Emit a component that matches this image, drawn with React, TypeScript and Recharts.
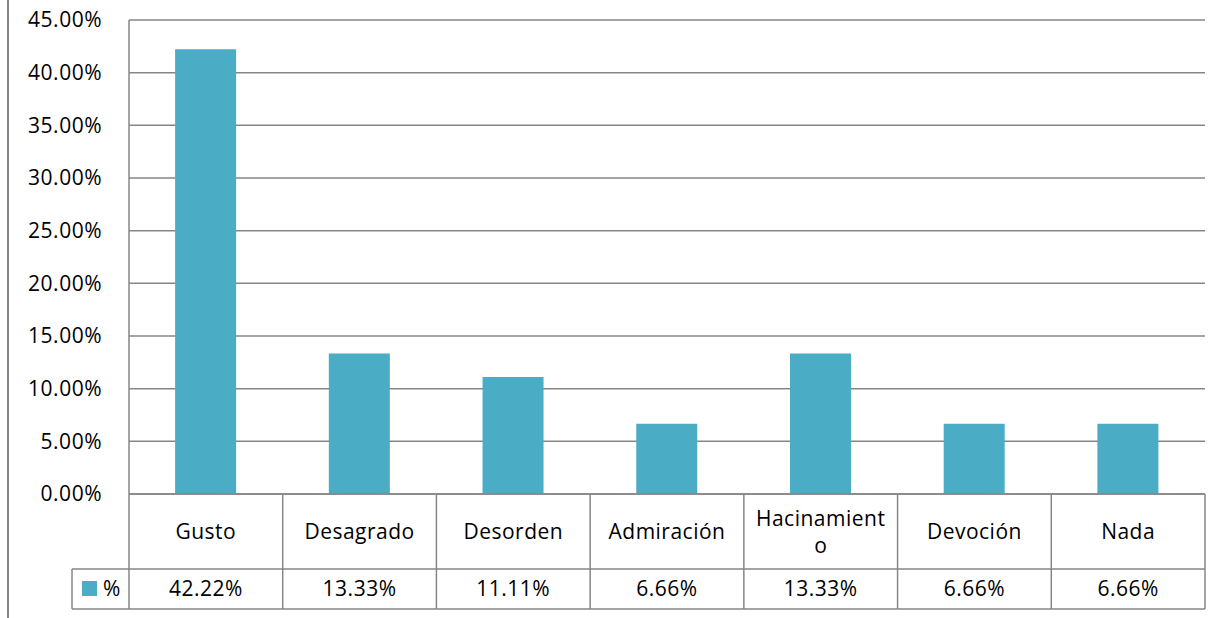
import React from "react";
import { BarChart, Bar, XAxis, YAxis, CartesianGrid } from "recharts";

const categories = ["Gusto", "Desagrado", "Desorden", "Admiración", "Hacinamiento", "Devoción", "Nada"];
const percentValues = [42.22, 13.33, 11.11, 6.66, 13.33, 6.66, 6.66];
const valueLabels = ["42.22%", "13.33%", "11.11%", "6.66%", "13.33%", "6.66%", "6.66%"];
const yTicks = [0, 5, 10, 15, 20, 25, 30, 35, 40, 45];
const seriesName = "%";

const data = categories.map((c, i) => ({ name: c, value: percentValues[i], label: valueLabels[i] }));

const W = 1221;
const H = 618;
const PLOT_LEFT = 129;
const PLOT_RIGHT = 1205;
const PLOT_BOTTOM = 494;
const COL_W = (PLOT_RIGHT - PLOT_LEFT) / categories.length;
const ROW1_BOTTOM = 569;
const ROW2_BOTTOM = 609;
const LINE = "#868686";
const BAR = "#4BACC6";
const FONT = "'Open Sans', sans-serif";
const textStyle = { fontFamily: FONT, fontSize: 21, letterSpacing: 0.5, fill: "#000" };

function TableTick(props: any) {
  const { x, index, payload } = props;
  const x0 = x - COL_W / 2;
  const x1 = x + COL_W / 2;
  const name: string = payload.value;
  const row = data[index];
  const wrapped = name === "Hacinamiento" ? ["Hacinamient", "o"] : [name];
  return (
    <g>
      {index === 0 && (
        <g>
          <line x1={72} y1={ROW1_BOTTOM} x2={x0} y2={ROW1_BOTTOM} stroke={LINE} strokeWidth={1.5} />
          <line x1={72} y1={ROW2_BOTTOM} x2={x0} y2={ROW2_BOTTOM} stroke={LINE} strokeWidth={1.5} />
          <line x1={72} y1={ROW1_BOTTOM} x2={72} y2={ROW2_BOTTOM} stroke={LINE} strokeWidth={1.5} />
          <line x1={x0} y1={PLOT_BOTTOM} x2={x0} y2={ROW2_BOTTOM} stroke={LINE} strokeWidth={1.5} />
          <rect x={82} y={581} width={15} height={15} fill={BAR} />
          <text x={103} y={589} dy="0.35em" style={textStyle}>{seriesName}</text>
        </g>
      )}
      <line x1={x1} y1={PLOT_BOTTOM} x2={x1} y2={ROW2_BOTTOM} stroke={LINE} strokeWidth={1.5} />
      <line x1={x0} y1={ROW1_BOTTOM} x2={x1} y2={ROW1_BOTTOM} stroke={LINE} strokeWidth={1.5} />
      <line x1={x0} y1={ROW2_BOTTOM} x2={x1} y2={ROW2_BOTTOM} stroke={LINE} strokeWidth={1.5} />
      {wrapped.length === 1 ? (
        <text x={x} y={532} dy="0.35em" textAnchor="middle" style={textStyle}>{wrapped[0]}</text>
      ) : (
        wrapped.map((t, i) => (
          <text key={i} x={x} y={519 + i * 27} dy="0.35em" textAnchor="middle" style={textStyle}>{t}</text>
        ))
      )}
      <text x={x} y={589} dy="0.35em" textAnchor="middle" style={textStyle}>{row.label}</text>
    </g>
  );
}

export default function App() {
  return (
    <div style={{ position: "absolute", left: 0, top: 0, width: W, height: H, background: "#fff" }}>
      <div style={{ position: "absolute", left: 7, top: 0, width: 1.5, height: H, background: LINE }} />
      <BarChart
        width={W}
        height={H}
        data={data}
        margin={{ top: 20, right: W - PLOT_RIGHT, left: 0, bottom: 0 }}
        barCategoryGap="30%"
      >
        <CartesianGrid horizontal vertical={false} stroke={LINE} strokeWidth={1.5} />
        <YAxis
          width={PLOT_LEFT}
          domain={[0, 45]}
          ticks={yTicks}
          tickFormatter={(v: number) => `${v.toFixed(2)}%`}
          tickLine={false}
          tickSize={0}
          tickMargin={27}
          axisLine={{ stroke: LINE, strokeWidth: 1.5 }}
          tick={{ fontFamily: FONT, fontSize: 21, letterSpacing: 0.5, fill: "#000" }}
          interval={0}
        />
        <XAxis
          dataKey="name"
          height={H - PLOT_BOTTOM}
          tickLine={false}
          axisLine={{ stroke: LINE, strokeWidth: 1.5 }}
          interval={0}
          tick={<TableTick />}
        />
        <Bar dataKey="value" fill={BAR} isAnimationActive={false} />
      </BarChart>
    </div>
  );
}
